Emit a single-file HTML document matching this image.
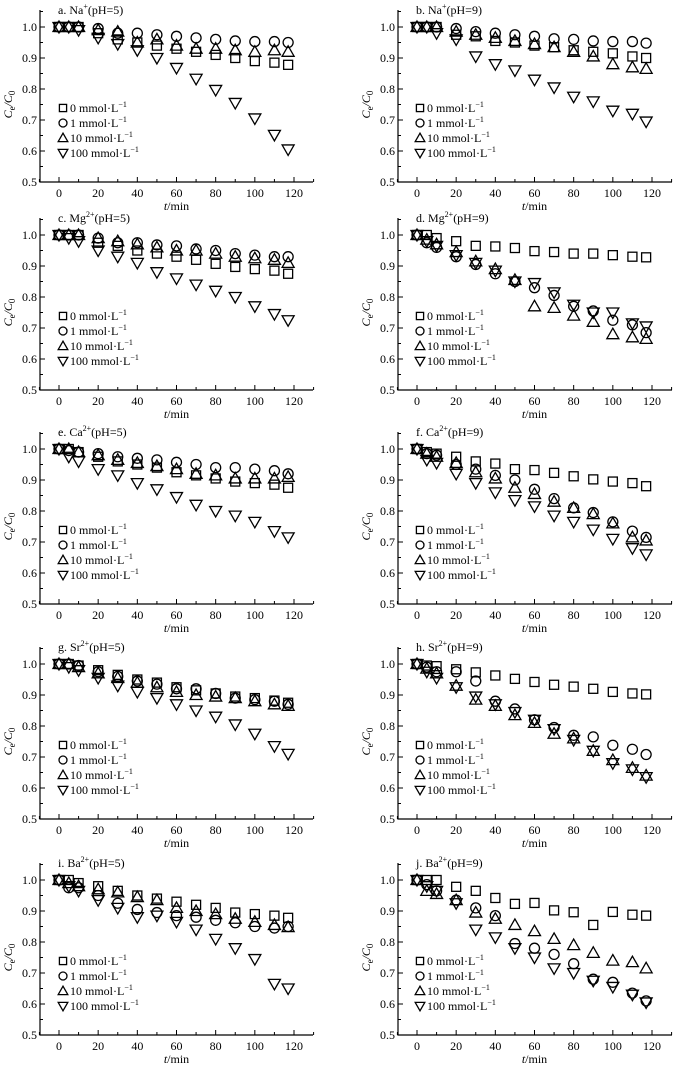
<!DOCTYPE html>
<html><head><meta charset="utf-8"><style>
html,body{margin:0;padding:0;background:#fff;}
svg{display:block;font-family:"Liberation Serif",serif;}
</style></head><body>
<svg id="fig" width="679" height="1068" viewBox="0 0 679 1068" xmlns="http://www.w3.org/2000/svg"></svg>
<script>
const times = [0,5,10,20,30,40,50,60,70,80,90,100,110,117];
const xTicks = [0,20,40,60,80,100,120];
const yTicks = [0.5,0.6,0.7,0.8,0.9,1.0];
const legendLabels = ['0 mmol·L','1 mmol·L','10 mmol·L','100 mmol·L'];
const panelIons = ['Na','Na','Mg','Mg','Ca','Ca','Sr','Sr','Ba','Ba'];
const panelCharges = ['+','+','2+','2+','2+','2+','2+','2+','2+','2+'];
const panelPH = [5,9,5,9,5,9,5,9,5,9];
const panelLetters = ['a','b','c','d','e','f','g','h','i','j'];
// series per panel: [0 mmol, 1 mmol, 10 mmol, 100 mmol]
const dataA = [[1,1,1,0.98,0.96,0.95,0.94,0.93,0.92,0.91,0.90,0.89,0.885,0.878],[1,1,1,0.995,0.98,0.98,0.975,0.97,0.965,0.96,0.955,0.953,0.953,0.95],[1,1,1,0.99,0.985,0.95,0.96,0.94,0.93,0.93,0.925,0.92,0.925,0.92],[1,1,0.99,0.965,0.945,0.925,0.90,0.868,0.833,0.797,0.755,0.705,0.652,0.605]];
const dataB = [[1,1,1,0.975,0.97,0.955,0.95,0.94,0.935,0.925,0.92,0.915,0.905,0.90],[1,1,1,0.995,0.985,0.98,0.975,0.97,0.962,0.96,0.955,0.953,0.953,0.948],[1,1,1,0.985,0.975,0.965,0.955,0.945,0.935,0.92,0.905,0.88,0.87,0.865],[1,1,0.98,0.96,0.905,0.88,0.86,0.83,0.805,0.775,0.76,0.73,0.72,0.695]];
const dataC = [[1,1,1,0.975,0.965,0.95,0.94,0.93,0.92,0.907,0.897,0.89,0.885,0.875],[1,1,1,0.99,0.975,0.975,0.968,0.965,0.955,0.95,0.94,0.935,0.93,0.93],[1,1,1,0.99,0.98,0.97,0.96,0.95,0.95,0.94,0.93,0.925,0.92,0.91],[1,0.99,0.98,0.95,0.93,0.91,0.88,0.86,0.84,0.82,0.80,0.77,0.745,0.725]];
const dataD = [[1,1,0.99,0.98,0.965,0.963,0.958,0.948,0.945,0.94,0.94,0.935,0.93,0.928],[1,0.975,0.96,0.93,0.905,0.875,0.85,0.83,0.805,0.77,0.755,0.725,0.71,0.685],[1,0.985,0.97,0.945,0.915,0.89,0.855,0.77,0.765,0.74,0.72,0.68,0.67,0.665],[1,0.98,0.965,0.935,0.91,0.885,0.85,0.845,0.815,0.775,0.75,0.75,0.715,0.705]];
const dataE = [[1,1,0.99,0.975,0.96,0.95,0.94,0.925,0.915,0.905,0.895,0.89,0.885,0.875],[1,0.995,0.99,0.985,0.975,0.97,0.965,0.957,0.95,0.94,0.94,0.935,0.93,0.92],[1,1,0.99,0.98,0.965,0.955,0.945,0.935,0.92,0.915,0.905,0.905,0.905,0.91],[1,0.975,0.96,0.935,0.915,0.89,0.87,0.845,0.82,0.8,0.785,0.765,0.735,0.715]];
const dataF = [[1,0.99,0.985,0.975,0.96,0.953,0.935,0.932,0.923,0.912,0.902,0.895,0.89,0.88],[1,0.985,0.98,0.95,0.935,0.915,0.9,0.87,0.84,0.81,0.795,0.765,0.735,0.715],[1,0.985,0.975,0.955,0.925,0.905,0.875,0.855,0.83,0.81,0.79,0.76,0.715,0.705],[1,0.965,0.955,0.92,0.89,0.86,0.835,0.815,0.785,0.765,0.74,0.71,0.68,0.66]];
const dataG = [[1,1,0.995,0.98,0.965,0.95,0.94,0.925,0.915,0.905,0.895,0.89,0.882,0.875],[1,1,0.995,0.975,0.96,0.945,0.935,0.92,0.92,0.905,0.89,0.885,0.88,0.87],[1,1,0.99,0.97,0.955,0.94,0.925,0.91,0.9,0.895,0.89,0.88,0.87,0.865],[1,0.99,0.98,0.955,0.93,0.91,0.89,0.87,0.85,0.83,0.805,0.775,0.735,0.71]];
const dataH = [[1,0.995,0.993,0.983,0.973,0.963,0.952,0.942,0.933,0.927,0.92,0.91,0.905,0.902],[1,0.99,0.975,0.975,0.945,0.88,0.855,0.82,0.795,0.77,0.765,0.738,0.725,0.708],[1,0.985,0.97,0.93,0.885,0.865,0.835,0.81,0.775,0.76,0.72,0.69,0.665,0.64],[1,0.975,0.955,0.925,0.895,0.87,0.845,0.82,0.79,0.755,0.72,0.68,0.66,0.635]];
const dataI = [[1,1,0.99,0.98,0.965,0.95,0.94,0.93,0.92,0.91,0.895,0.89,0.885,0.878],[1,0.975,0.975,0.95,0.925,0.905,0.895,0.885,0.88,0.87,0.862,0.85,0.845,0.85],[1,0.99,0.98,0.97,0.96,0.945,0.935,0.91,0.9,0.89,0.875,0.865,0.855,0.848],[1,0.98,0.965,0.935,0.91,0.88,0.885,0.865,0.84,0.81,0.78,0.745,0.665,0.65]];
const dataJ = [[1,1,1,0.978,0.965,0.942,0.923,0.926,0.902,0.896,0.855,0.897,0.888,0.885],[1,0.985,0.965,0.935,0.91,0.885,0.795,0.78,0.76,0.73,0.68,0.67,0.635,0.61],[1,0.965,0.955,0.935,0.895,0.875,0.855,0.835,0.81,0.79,0.765,0.74,0.735,0.715],[1,0.98,0.965,0.925,0.84,0.815,0.78,0.75,0.715,0.70,0.675,0.655,0.63,0.605]];
const panelData = [dataA,dataB,dataC,dataD,dataE,dataF,dataG,dataH,dataI,dataJ];

const NS='http://www.w3.org/2000/svg';
const svg=document.getElementById('fig');
function mk(tag,attrs,parent){const e=document.createElementNS(NS,tag);for(const k in attrs)e.setAttribute(k,attrs[k]);(parent||svg).appendChild(e);return e;}
const rowBase=[182,390,604,819,1035];
const shapes=['square','circle','up','down'];
function marker(g,shape,x,y,s){
  s=s||1;
  let e;
  if(shape==='square') e=mk('rect',{x:x-4.5*s,y:y-4.5*s,width:9*s,height:9*s},g);
  else if(shape==='circle') e=mk('circle',{cx:x,cy:y,r:5*s},g);
  else if(shape==='up') e=mk('polygon',{points:`${x},${y-6*s} ${x-6*s},${y+4.5*s} ${x+6*s},${y+4.5*s}`},g);
  else e=mk('polygon',{points:`${x},${y+6*s} ${x-6*s},${y-4.5*s} ${x+6*s},${y-4.5*s}`},g);
  e.setAttribute('fill','none');e.setAttribute('stroke','#000');e.setAttribute('stroke-width','1.3');
  return e;
}
for(let p=0;p<10;p++){
  const col=p%2,row=Math.floor(p/2);
  const axX=col?398:40, x0=col?417:59, axR=col?672:313;
  const yb=rowBase[row];
  const xs=v=>x0+v*(235/120);
  const ys=v=>yb-(v-0.5)*310;
  const g=mk('g',{});
  
  
  const ax=mk('path',{d:`M${axX},${yb-172}V${yb}H${axR}`,stroke:'#000','stroke-width':1.2,fill:'none'},g);
  
  
  for(let v=0.5;v<=1.0501;v+=0.05){
    const major=Math.abs(v*10-Math.round(v*10))<1e-6;
    mk('line',{x1:axX,x2:axX+(major?5:3),y1:ys(v),y2:ys(v),stroke:'#000','stroke-width':1},g);
  }
  for(let v=-10;v<=130;v+=10){
    const major=v%20===0;
    mk('line',{x1:xs(v),x2:xs(v),y1:yb,y2:yb-(major?5:3),stroke:'#000','stroke-width':1},g);
  }
  yTicks.forEach(v=>{
    const t=mk('text',{x:axX-3,y:ys(v)+4,'text-anchor':'end','font-size':12},g);
    t.textContent=v.toFixed(1);
    
    
  });
  xTicks.forEach(v=>{
    const t=mk('text',{x:xs(v),y:yb+15,'text-anchor':'middle','font-size':12},g);
    t.textContent=v;
    
    
  });
  const xl=mk('text',{x:xs(60),y:yb+28,'text-anchor':'middle','font-size':12},g);
  xl.innerHTML='<tspan font-style="italic">t</tspan>/min';
  
  
  const ylx=axX-28, yly=ys(0.75);
  const yl=mk('text',{x:ylx,y:yly,'text-anchor':'middle','font-size':12,transform:`rotate(-90 ${ylx} ${yly})`},g);
  yl.innerHTML='<tspan font-style="italic">C</tspan><tspan font-size="9" dy="3">e</tspan><tspan dy="-3" font-style="italic">/C</tspan><tspan font-size="9" dy="3">0</tspan>';
  
  
  const tt=mk('text',{x:x0-1,y:yb-168,'font-size':12},g);
  tt.innerHTML=`${panelLetters[p]}. ${panelIons[p]}<tspan font-size="8" dy="-5">${panelCharges[p]}</tspan><tspan dy="5">(pH=${panelPH[p]})</tspan>`;
  
  
  const lx=col?420:63;
  legendLabels.forEach((lab,i)=>{
    const ly=ys(1.0)+82+i*15;
    const lg=mk('g',{},g);
    
    
    marker(lg,shapes[i],lx,ly-1,0.8);
    const t=mk('text',{x:lx+7,y:ly+3,'font-size':12},lg);
    t.innerHTML=lab+'<tspan font-size="8" dy="-5">−1</tspan>';
  });
  panelData[p].forEach((ser,si)=>{
    const sg=mk('g',{},g);
    
    
    ser.forEach((v,i)=>{
      const m=marker(sg,shapes[si],xs(times[i]),ys(v));
      
      
    });
  });
}
</script>
</body></html>
